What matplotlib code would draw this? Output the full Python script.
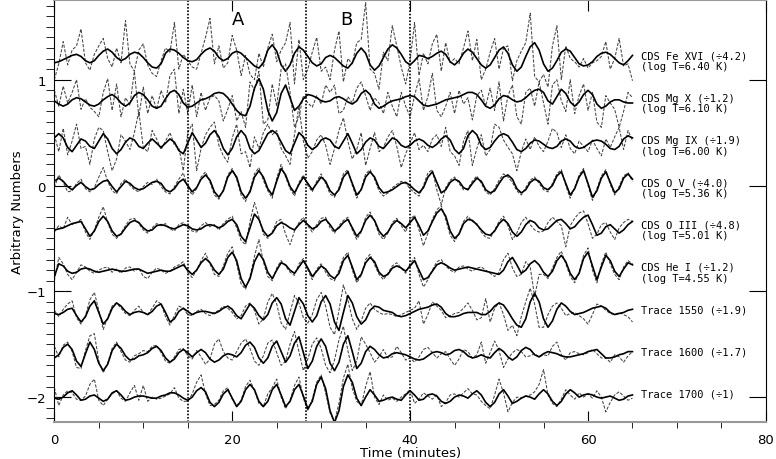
import numpy as np
import matplotlib
matplotlib.use("Agg")
import matplotlib.pyplot as plt

# cadence of every series (minutes)
dt = 0.5

# stacking offsets of the light curves
offsets = [1.2, 0.8, 0.4, 0.0, -0.4, -0.8, -1.2, -1.6, -2.0]

line1 = ["CDS Fe XVI (\u00f74.2)", "CDS Mg X (\u00f71.2)", "CDS Mg IX (\u00f71.9)",
         "CDS O V (\u00f74.0)", "CDS O III (\u00f74.8)", "CDS He I (\u00f71.2)",
         "Trace 1550 (\u00f71.9)", "Trace 1600 (\u00f71.7)", "Trace 1700 (\u00f71)"]
line2 = ["(log T=6.40 K)", "(log T=6.10 K)", "(log T=6.00 K)",
         "(log T=5.36 K)", "(log T=5.01 K)", "(log T=4.55 K)", "", "", ""]

# all curves in units of 0.01 relative to their offset, t = 0 .. 65 min
fe16_smooth = [-4,-3,-1,1,3,4,2,-2,-4,-2,3,7,9,6,1,-2,0,4,6,5,1,-4,-8,-9,-5,5,9,8,5,1,-2,-3,-1,4,8,10,7,1,-2,0,5,7,5,1,-3,-7,-9,-4,8,13,7,-6,-12,-6,5,11,8,2,-4,-7,-5,1,3,1,-3,-7,-9,-4,5,10,5,-6,-11,-7,1,9,13,10,4,-3,-6,-2,3,2,0,2,5,7,4,-3,-6,-2,5,9,6,0,-6,-9,-6,1,8,11,5,-6,-12,-8,2,11,15,8,-5,-12,-9,-2,6,9,7,1,-5,-7,-6,-3,2,5,6,4,0,-4,-6,-2,3]
fe16_raw = [-20,-5,16,-6,8,12,28,-4,-11,4,
            12,19,0,-8,10,-4,36,-5,-12,8,
            14,-6,-14,-17,-2,10,6,34,-10,4,
            -2,-8,-10,5,20,38,-5,12,-9,-4,
            22,8,-16,3,-15,-20,5,-8,10,23,
            -3,8,15,34,-24,18,-20,-10,6,20,
            -12,-8,-20,8,26,-22,0,-5,15,18,
            53,-10,-14,-29,6,-2,31,12,-8,-24,
            -2,34,-16,5,-5,14,23,-12,15,-4,
            0,-5,10,26,-2,18,-20,-10,6,19,
            -10,10,12,-21,-2,7,15,43,-17,-22,
            -15,-27,12,31,-20,12,0,-3,-8,0,
            -9,-4,-2,2,16,-10,0,19,-7,-5,
            -21]

mg10_smooth = [0,-3,-5,-3,1,3,2,-1,-4,-5,-3,1,4,6,3,-2,-5,-2,5,8,6,1,-5,-7,-5,2,8,10,6,-2,-6,-5,-2,1,2,4,7,8,7,3,-3,-9,-13,-14,-5,12,21,11,-9,-19,-11,7,15,3,-9,-5,2,6,5,3,0,-1,0,3,4,2,-1,-3,0,7,10,6,-3,-7,-5,-2,0,1,2,4,5,4,0,-4,-5,-4,-3,-1,1,2,3,4,6,8,8,6,1,-5,-7,-4,2,5,4,1,-1,0,3,7,10,11,8,0,-3,4,11,7,-1,-5,-1,6,10,6,-3,-7,-5,-1,1,1,-1,-2,-2]
mg10_raw = [10,-5,14,-2,8,20,-8,2,-6,-10,
            -15,8,21,-9,16,-15,3,-4,28,-15,
            13,-12,5,-8,10,-2,24,30,-12,11,
            -12,15,-15,8,-9,3,5,0,-19,-8,
            5,-19,-10,-25,18,10,28,-22,-18,16,
            -5,30,35,8,-25,-15,5,-2,-6,5,
            -3,15,8,15,-12,-9,4,-2,12,18,
            5,-9,3,-2,-12,8,-5,-15,8,-5,
            -15,5,21,-9,4,26,-9,-15,-5,8,
            -12,10,-3,3,-18,5,10,-5,12,-9,
            18,-19,5,15,-15,-22,8,12,-5,18,
            -2,-22,15,20,0,-10,20,-12,5,16,
            -9,8,-20,-25,5,-2,-8,-25,-10,8,
            3]

mg9_smooth = [5,9,5,-4,-8,-2,4,2,-3,-5,2,9,4,-5,-10,-6,1,5,3,-3,-5,0,4,0,-4,0,4,1,-7,-10,0,10,3,-4,0,8,12,6,-5,-11,-5,6,12,7,-5,-10,-7,1,9,12,9,1,-7,-10,0,10,6,-2,-6,-3,3,5,3,-3,-5,2,9,0,-10,-6,1,5,3,-3,-5,0,5,3,-2,-4,-2,2,4,2,-2,-4,-1,4,7,3,-6,-10,-5,7,12,8,-2,-6,-4,2,7,9,7,1,-6,-8,-5,0,3,2,-1,-4,-5,-3,2,4,2,-3,-5,-4,-1,2,3,2,-1,-5,-6,-3,4,7,5]
mg9_raw = [8,-8,14,-11,2,18,-5,-3,-20,4,
           15,12,-8,-26,-15,8,2,-6,10,30,
           -4,-8,12,4,-6,2,10,-2,-4,-26,
           10,18,-26,-5,8,15,20,-2,-12,-18,
           5,18,-10,-8,-23,6,-5,10,18,8,
           12,-5,-12,-20,8,35,2,-14,-8,3,
           8,-2,-20,-5,12,24,2,-15,-6,10,
           -21,-5,10,-8,-4,6,12,-3,-23,-10,
           0,10,-6,-2,-8,4,8,-3,15,-8,
           -12,-21,2,12,-21,-5,8,-12,-6,18,
           15,3,-4,-10,-26,-8,4,-6,6,-3,
           -8,2,14,10,-4,8,-5,-10,2,-3,
           -8,3,-5,-12,4,-4,6,15,-6,12,
           2]

o5_smooth = [4,7,4,-1,-4,0,3,-1,-4,-3,1,4,5,-1,-6,-1,4,2,-2,-4,-3,0,3,4,2,-4,-6,-3,3,6,0,-6,-2,6,10,5,-6,-11,-5,8,14,8,-6,-12,-6,8,14,8,-3,-9,4,16,10,-1,-7,1,8,2,-4,2,8,4,-5,-9,-4,8,13,2,-9,-4,8,13,8,-2,-7,-6,-4,-1,2,3,0,-4,-7,-2,8,13,3,-7,-4,3,6,4,-2,-4,2,7,4,-4,-7,-5,2,8,10,6,-3,-7,-4,3,6,4,-2,-4,0,9,13,2,-9,-3,8,14,2,-11,-5,7,13,3,-7,-3,7,11,6]
o5_raw = [-2,10,3,-6,-5,2,6,-3,-6,-2,
          8,17,4,-5,-8,2,6,0,-4,-6,
          -1,3,1,6,-1,-6,-8,-1,6,12,
          -2,-9,-3,8,13,3,-9,-13,-4,10,
          16,6,-9,-15,-4,11,17,5,-5,-12,
          7,20,8,-3,-10,3,10,0,-6,4,
          11,2,-8,-11,-2,11,15,0,-12,-3,
          11,15,6,-5,-10,-7,-2,1,4,2,
          -3,-7,-10,0,12,15,-4,-18,-2,5,
          8,2,-4,-3,4,9,2,-6,-9,-3,
          5,11,8,3,-5,-9,-2,5,8,2,
          -4,-6,2,11,15,0,-12,-2,10,16,
          0,-14,-3,9,15,1,-9,-1,9,12,
          4]

o3_smooth = [-2,-1,0,2,4,5,6,-1,-8,-3,6,11,6,-3,-8,-6,0,5,7,5,0,-3,-2,2,3,2,0,-1,1,3,2,-1,-2,-1,2,3,2,0,2,6,8,3,-8,-13,0,13,8,-3,-8,-5,2,5,3,0,-2,3,7,3,-1,1,6,8,3,-3,0,5,8,0,-8,-3,7,12,7,-3,-8,-4,3,7,4,0,5,10,2,-7,-3,6,14,18,11,-3,-10,-6,4,8,7,3,-2,-6,-7,-3,4,8,4,-4,-8,-4,3,7,5,0,-2,-1,3,7,8,4,-1,1,6,10,12,3,-7,-5,1,3,-1,-5,-2,3,6]
o3_raw = [-4,2,-1,10,3,5,8,-4,-11,-2,
          10,20,5,-6,-10,-5,2,8,9,4,
          -2,-5,0,4,2,4,-1,-3,3,5,
          0,-3,-4,2,5,1,3,-2,4,8,
          11,0,-12,-16,6,24,10,-6,-10,-4,
          6,8,-6,-16,-3,5,10,2,-4,3,
          9,10,0,-5,2,7,10,-2,-11,-4,
          10,15,6,-6,-11,-5,5,9,2,-4,
          8,12,-2,-17,-5,8,17,21,8,-7,
          -13,-5,6,11,6,4,-4,-9,-10,-2,
          6,11,2,-11,-5,5,10,3,-2,-4,
          -3,5,10,6,2,-18,2,9,14,16,
          4,-10,-6,3,5,-4,-11,0,5,8,
          6]

he1_smooth = [-6,6,4,-1,-3,-2,1,2,1,-1,-2,-1,0,1,0,-1,-1,0,1,1,-1,-3,-2,-1,0,-1,-1,1,3,5,0,-4,0,7,11,7,0,-4,1,12,17,9,-8,-16,-8,8,16,10,-2,-8,0,7,5,0,-3,3,9,2,-6,-1,4,1,-5,-8,-3,9,14,3,-9,-4,7,12,8,-2,-6,-4,2,4,2,-1,4,9,0,-9,-7,-1,5,7,5,2,0,1,2,3,2,1,0,-1,-2,-3,-4,0,8,12,5,-3,0,6,9,5,-2,-6,-1,9,14,8,-3,-9,-3,11,17,4,-9,3,14,9,-1,-6,1,7,5]
he1_raw = [-10,12,6,-4,-9,-2,5,3,-1,-3,
           0,2,3,-2,1,-3,2,3,-1,2,
           -6,-8,-2,2,0,-3,-1,3,5,8,
           -2,-7,0,9,16,6,-4,-6,4,16,
           22,6,-13,-18,-6,13,29,8,-6,-10,
           2,9,4,-2,-5,6,11,0,-9,1,
           6,-2,-8,-10,0,12,17,0,-12,-5,
           10,15,5,-4,-9,-3,4,7,2,-3,
           6,12,-4,-16,-9,0,8,10,4,0,
           -2,3,4,1,-1,2,3,0,-3,-6,
           -2,10,16,2,-6,-4,8,3,-25,-4,
           -4,-8,2,12,18,6,-6,-12,-2,14,
           21,0,-12,6,17,6,-4,-9,3,9,
           6]

tr1550_smooth = [-1,-2,0,3,4,-3,-9,-4,6,11,0,-11,-6,4,9,6,1,-2,0,1,0,-2,1,6,8,0,-9,-6,1,4,1,-2,0,1,1,0,-1,1,4,6,3,-3,-6,1,8,4,-3,-7,-2,9,14,8,-6,-12,1,14,8,-3,-9,-3,10,16,8,-9,-17,0,16,9,-4,-11,-7,2,6,5,2,1,0,-3,-4,-3,-1,1,3,4,5,7,8,5,-1,-4,-4,-3,-1,0,0,0,-2,-2,1,6,9,7,1,-6,-12,-14,-6,10,18,10,-6,-14,-8,3,9,6,1,-2,-1,0,2,4,5,6,4,0,-2,-1,0,2,3]
tr1550_raw = [2,-4,3,8,11,-5,-11,-3,12,19,
              2,-16,-5,6,9,4,-1,-3,2,6,
              0,-2,4,11,8,-4,-12,-3,6,4,
              -2,-3,1,3,-1,-3,0,2,6,4,
              0,-6,-3,6,9,2,-11,-6,10,18,
              8,-10,-16,0,16,9,-5,-10,-2,12,
              19,6,-14,-21,2,26,12,-6,-16,-8,
              4,9,3,0,-2,-1,-2,-4,-2,0,
              2,4,11,-11,-2,10,6,2,-5,-3,
              -1,0,4,9,2,-7,-5,13,-9,4,
              9,-2,-17,-12,-22,-4,10,23,8,-14,
              -14,-2,6,9,4,-3,-1,0,-3,-6,
              -11,-2,8,6,2,-1,-2,0,-2,-4,
              -9]

tr1600_smooth = [-3,0,7,10,5,-6,-11,1,12,5,-8,-15,-9,4,10,6,-1,-5,-4,-1,0,2,6,8,4,-3,-7,-4,2,5,2,-2,2,5,2,-4,-7,-5,-1,1,0,-2,2,9,12,7,-3,-8,-3,8,13,3,-7,-1,11,17,2,-13,-6,8,15,8,-8,-15,-7,10,18,3,-13,-8,3,8,5,0,-3,-2,1,2,1,0,-2,-4,-5,-4,-1,2,3,2,0,1,4,5,3,-1,-3,-2,0,-2,-3,2,6,3,-2,-5,-2,4,7,5,0,-2,1,3,2,1,-1,-2,-2,-1,0,1,3,4,5,1,-3,-3,-2,0,1,3,3]
tr1600_raw = [8,-2,9,12,3,-12,-13,4,18,20,
              -6,-17,-8,6,12,3,-5,-7,-1,1,
              4,3,8,9,2,-6,-8,-2,5,6,
              -1,-4,4,-2,-9,-4,10,15,3,-3,
              -5,3,11,15,6,-6,-10,-1,11,14,
              2,-10,-6,10,22,3,-15,-4,10,16,
              6,-10,-17,-5,14,27,4,-15,-6,17,
              10,2,-7,-2,5,-3,-2,8,2,-5,
              -3,-7,-2,5,7,2,-3,1,3,-4,
              -10,-4,5,3,-3,0,12,-8,2,13,
              4,-12,-4,2,5,3,-2,-1,1,-2,
              0,-1,8,12,0,-5,2,3,1,0,
              2,5,1,-3,-3,-7,0,-2,-7,-1,
              3]

tr1700_smooth = [-1,-2,0,4,6,2,-3,-2,1,2,-1,-4,-2,4,6,2,-3,-2,0,1,1,0,-1,-1,1,2,4,4,2,-1,-3,0,6,9,5,-5,-9,-5,3,7,-1,-9,-4,7,12,7,-4,-9,-4,7,12,2,-9,-4,7,12,1,-11,-4,12,19,8,-13,-24,-13,10,21,14,-1,-8,0,7,2,-4,-3,-1,0,-2,-3,2,6,2,-3,-2,2,3,1,-4,-6,-4,0,2,1,-1,3,6,2,-5,-9,-5,3,7,1,-6,-4,-1,1,0,-2,3,7,3,-4,-8,-4,3,7,4,0,2,3,2,0,-1,0,1,-1,-3,-2,1,2]
tr1700_raw = [9,-8,2,6,4,-2,-3,1,12,17,
              -3,-8,-2,3,6,-1,-4,4,11,-3,
              11,-4,0,-2,-1,1,3,9,-1,-4,
              -4,3,14,21,3,-8,-7,-3,6,9,
              -2,-8,-3,10,16,6,-6,-9,3,9,
              17,0,-11,-3,11,19,-1,-13,-2,14,
              21,4,-15,-23,-6,18,31,8,-4,-8,
              10,24,0,-7,2,-3,-1,-4,0,3,
              7,-6,-2,4,1,-2,2,-9,-5,2,
              3,0,4,8,3,2,-4,-8,-11,2,
              17,4,-14,-5,0,-1,1,2,5,12,
              26,2,-6,-9,-2,7,2,-2,4,0,
              3,-1,6,0,-14,-5,2,5,1,-3,
              -1]

smooth = [fe16_smooth, mg10_smooth, mg9_smooth, o5_smooth, o3_smooth,
          he1_smooth, tr1550_smooth, tr1600_smooth, tr1700_smooth]
raw = [fe16_raw, mg10_raw, mg9_raw, o5_raw, o3_raw,
       he1_raw, tr1550_raw, tr1600_raw, tr1700_raw]

# times of the three intervals marked on the plot
markers = [15.0, 28.3, 40.0]

fig = plt.figure(figsize=(7.76, 4.6), dpi=100)
ax = fig.add_axes([0.07, 0.081, 0.917, 0.916])

for off, s, r in zip(offsets, smooth, raw):
    tr = np.arange(len(r)) * dt
    ts = np.arange(len(s)) * dt
    ax.plot(tr, off + np.array(r) / 100.0, color="#444444", lw=0.75,
            ls=(0, (3, 1.5)))
    ax.plot(ts, off + np.array(s) / 100.0, color="black", lw=1.2)

for m in markers:
    ax.axvline(m, color="black", lw=1.2, ls=(0, (1, 1)))

mono = "DejaVu Sans Mono"
for off, a, b in zip(offsets, line1, line2):
    ax.text(66, off + 0.03, a, fontsize=7.5, family=mono, va="center")
    if b:
        ax.text(66, off - 0.07, b, fontsize=7.5, family=mono, va="center")

ax.text(20.6, 1.57, "A", fontsize=13, ha="center", va="center")
ax.text(32.8, 1.57, "B", fontsize=13, ha="center", va="center")

ax.set_xlim(0, 80)
ax.set_ylim(-2.233, 1.75)
ax.set_xticks([0, 20, 40, 60, 80])
ax.set_xticks(np.arange(0, 81, 5), minor=True)
ax.set_yticks([-2, -1, 0, 1])
ax.set_yticks(np.arange(-2.2, 1.75, 0.1), minor=True)
ax.tick_params(direction="in", top=True, right=True, labelsize=9.5)
ax.tick_params(axis="x", which="major", length=8, pad=8)
ax.tick_params(axis="x", which="minor", length=4)
ax.tick_params(axis="y", which="major", length=12, pad=6)
ax.tick_params(axis="y", which="minor", length=6)
for side in ["top", "bottom"]:
    ax.spines[side].set_color("#999999")
    ax.spines[side].set_linewidth(1.5)

ax.set_xlabel("Time (minutes)", fontsize=9.5)
ax.xaxis.set_label_coords(0.5, -0.058)
ax.set_ylabel("Arbitrary Numbers", fontsize=9.5)
ax.yaxis.set_label_coords(-0.043, 0.5)

fig.savefig("out.png", dpi=100)
